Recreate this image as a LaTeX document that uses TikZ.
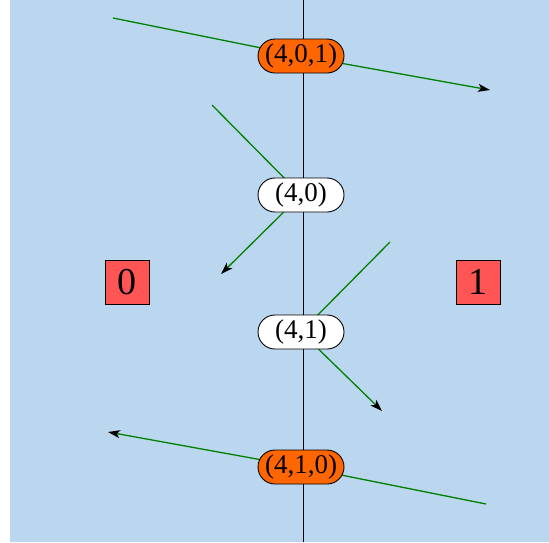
\documentclass[tikz,border=0pt]{standalone}
\usepackage{fontspec}
\setmainfont{Liberation Serif}
\usetikzlibrary{arrows.meta}
\definecolor{sky}{RGB}{187,215,240}
\definecolor{flame}{RGB}{255,102,0}
\definecolor{tomato}{RGB}{255,85,85}
\definecolor{leaf}{RGB}{0,128,0}
\pgfdeclarelayer{bg}
\pgfdeclarelayer{rays}
\pgfsetlayers{bg,rays,main}

\begin{document}
\begin{tikzpicture}[x=1pt,y=-1pt,>={Stealth[length=12pt,width=8pt,inset=3pt,black]},
    pair/.style={draw,line width=0.9pt,rounded corners=17pt,minimum width=86pt,minimum height=34pt,
      inner sep=0pt,fill=white,font=\fontsize{27}{32}\selectfont},
    triple/.style={pair,fill=flame},
    side/.style={draw,line width=0.9pt,fill=tomato,minimum size=44pt,inner sep=0pt,font=\fontsize{38}{44}\selectfont},
    ray/.style={->,leaf,line width=1.3pt}]
      \useasboundingbox (0,0) rectangle (549,542);

      \node[triple] (p401) at (301,56) {(4,0,1)};
      \node[pair] (p40) at (301,195) {(4,0)};
      \node[pair] (p41) at (301,332) {(4,1)};
      \node[triple] (p410) at (301,467) {(4,1,0)};

      \node[side] (s0) at (127,282) {0};
      \node[side] (s1) at (478,282) {1};

      \coordinate (a1) at (113,18);
      \coordinate (b1) at (490,90);
      \coordinate (a2) at (212,105);
      \coordinate (b2) at (221,274);
      \coordinate (a3) at (390,242);
      \coordinate (b3) at (382,411);
      \coordinate (a4) at (486,504);
      \coordinate (b4) at (108,432);
      \coordinate (top) at (303,0);
      \coordinate (bot) at (303,542);

      \begin{pgfonlayer}{bg}
        \fill[sky] (10,0) rectangle (549,542);
      \end{pgfonlayer}

      \begin{pgfonlayer}{rays}
        \draw[line width=1pt] (top) -- (bot);
        \draw[ray] (a1) -- (p401.center) -- (b1);
        \draw[ray] (a2) -- (p40.center) -- (b2);
        \draw[ray] (a3) -- (p41.center) -- (b3);
        \draw[ray] (a4) -- (p410.center) -- (b4);
      \end{pgfonlayer}
    \end{tikzpicture}
\end{document}
